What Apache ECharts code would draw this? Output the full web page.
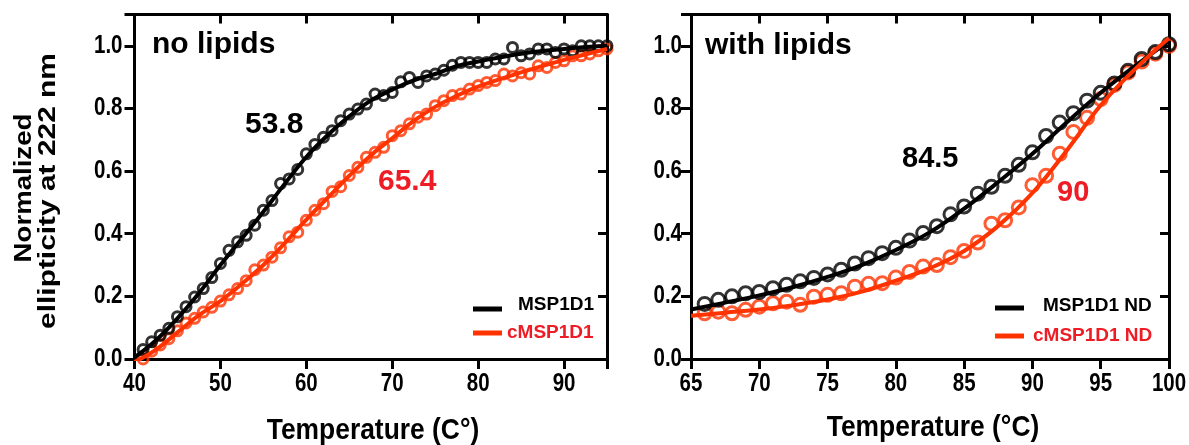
<!DOCTYPE html>
<html>
<head>
<meta charset="utf-8">
<script src="https://cdn.jsdelivr.net/npm/echarts@6/dist/echarts.min.js"></script>
<style>
  html, body { margin: 0; padding: 0; background: #fff; }
  #chart { width: 1189px; height: 445px; }
</style>
</head>
<body>
<div id="chart"></div>
<script>
// measured points, no lipids (40-95 C)
const tempNoLipids = [41, 42, 43, 44, 45, 46, 47, 48, 49, 50, 51, 52, 53, 54, 55, 56, 57, 58, 59, 60,
  61, 62, 63, 64, 65, 66, 67, 68, 69, 70, 71, 72, 73, 74, 75, 76, 77, 78, 79, 80,
  81, 82, 83, 84, 85, 86, 87, 88, 89, 90, 91, 92, 93, 94, 95];
const msp1d1 = [0.03, 0.055, 0.076, 0.098, 0.135, 0.167, 0.198, 0.225, 0.26, 0.305,
  0.347, 0.374, 0.395, 0.427, 0.475, 0.506, 0.56, 0.575, 0.605, 0.655,
  0.685, 0.708, 0.729, 0.761, 0.782, 0.798, 0.814, 0.846, 0.841, 0.851,
  0.885, 0.899, 0.883, 0.904, 0.91, 0.922, 0.938, 0.947, 0.947, 0.947,
  0.947, 0.958, 0.958, 0.995, 0.968, 0.974, 0.99, 0.99, 0.979, 0.99,
  0.984, 1.0, 1.0, 1.0, 1.0];
const cmsp1d1 = [0.0, 0.025, 0.045, 0.065, 0.09, 0.115, 0.13, 0.15, 0.165, 0.185,
  0.205, 0.225, 0.25, 0.285, 0.3, 0.325, 0.355, 0.39, 0.405, 0.443,
  0.475, 0.496, 0.535, 0.55, 0.586, 0.612, 0.644, 0.66, 0.676, 0.713,
  0.729, 0.751, 0.772, 0.782, 0.809, 0.825, 0.841, 0.846, 0.862, 0.873,
  0.883, 0.889, 0.91, 0.904, 0.914, 0.91, 0.936, 0.931, 0.947, 0.952,
  0.968, 0.968, 0.974, 0.984, 0.99];

// fitted curves, no lipids
const fitTempNoLipids = [40, 42.5, 45, 47.5, 50, 52.5, 55, 57.5, 60, 62.5, 65, 67.5, 70, 72.5, 75, 77.5, 80, 85, 90, 95];
const msp1d1Fit = [0.005, 0.06, 0.13, 0.21, 0.3, 0.385, 0.47, 0.56, 0.645, 0.715, 0.775, 0.825, 0.86, 0.89, 0.91, 0.935, 0.95, 0.975, 0.99, 1.0];
const cmsp1d1Fit = [-0.01, 0.03, 0.085, 0.14, 0.185, 0.24, 0.3, 0.37, 0.445, 0.515, 0.585, 0.65, 0.705, 0.76, 0.805, 0.84, 0.87, 0.915, 0.955, 0.99];

// measured points, with lipids (65-100 C)
const tempLipids = [66, 67, 68, 69, 70, 71, 72, 73, 74, 75, 76, 77, 78, 79, 80, 81, 82, 83, 84, 85,
  86, 87, 88, 89, 90, 91, 92, 93, 94, 95, 96, 97, 98, 99, 100];
const msp1d1Nd = [0.176, 0.189, 0.2, 0.21, 0.214, 0.226, 0.237, 0.248, 0.259, 0.27,
  0.285, 0.305, 0.322, 0.338, 0.355, 0.378, 0.402, 0.424, 0.462, 0.487,
  0.528, 0.55, 0.585, 0.62, 0.66, 0.712, 0.755, 0.785, 0.825, 0.85,
  0.88, 0.92, 0.958, 0.98, 1.005];
const cmsp1d1Nd = [0.146, 0.151, 0.146, 0.157, 0.167, 0.178, 0.183, 0.173, 0.199, 0.205,
  0.21, 0.231, 0.24, 0.242, 0.26, 0.278, 0.295, 0.3, 0.325, 0.345,
  0.372, 0.432, 0.443, 0.484, 0.555, 0.585, 0.655, 0.725, 0.77, 0.83,
  0.875, 0.915, 0.95, 0.975, 1.0];

// fitted curves, with lipids
const fitTempLipids = [65, 67.5, 70, 72.5, 75, 77.5, 80, 82.5, 85, 87.5, 90, 92.5, 95, 97.5, 100];
const msp1d1NdFit = [0.158, 0.18, 0.203, 0.23, 0.262, 0.3, 0.348, 0.405, 0.48, 0.565, 0.655, 0.755, 0.85, 0.935, 1.015];
const cmsp1d1NdFit = [0.138, 0.148, 0.158, 0.172, 0.19, 0.215, 0.25, 0.29, 0.345, 0.425, 0.53, 0.665, 0.81, 0.925, 1.025];

// tick labels
const xTicksNoLipids = [40, 50, 60, 70, 80, 90];
const xTicksLipids = [65, 70, 75, 80, 85, 90, 95, 100];
const yTicks = [0, 0.2, 0.4, 0.6, 0.8, 1.0];

const BLACK = '#000000';
const RED = '#ff3300';
const RED_TEXT = '#ee1c25';
const SANS = "'Liberation Sans', Arial, sans-serif";
const NARROW_X = 0.82; // the reference uses a condensed face for axis text

const zip = (xs, ys) => xs.map((x, i) => [x, ys[i]]);

const axisLine = { show: true, onZero: false, lineStyle: { color: BLACK, width: 3 } };

function xAxes(gridIndex, min, max, interval) {
  return [
    {
      type: 'value', gridIndex, min, max, interval, position: 'bottom',
      axisLine, splitLine: { show: false },
      axisTick: { show: true, length: 10, lineStyle: { width: 3, color: BLACK } },
      axisLabel: { show: false }
    },
    {
      type: 'value', gridIndex, min, max, interval, position: 'top',
      axisLine, splitLine: { show: false },
      axisTick: { show: true, inside: true, length: 9, lineStyle: { width: 3, color: BLACK } },
      axisLabel: { show: false }
    }
  ];
}

function yAxes(gridIndex) {
  return [
    {
      type: 'value', gridIndex, min: 0, max: 1.1, interval: 0.2, position: 'left',
      axisLine, splitLine: { show: false },
      axisTick: { show: true, length: 10, lineStyle: { width: 3, color: BLACK } },
      axisLabel: { show: false }
    },
    {
      type: 'value', gridIndex, min: 0, max: 1.1, interval: 0.2, position: 'right',
      axisLine, splitLine: { show: false },
      axisTick: { show: true, inside: true, length: 9, lineStyle: { width: 3, color: BLACK } },
      axisLabel: { show: false }
    }
  ];
}

function fitLine(xi, yi, data, color) {
  return {
    type: 'line', xAxisIndex: xi, yAxisIndex: yi, data, smooth: 0.4,
    showSymbol: false, silent: true,
    lineStyle: { color, width: 4 }
  };
}

function points(xi, yi, data, color, size) {
  return {
    type: 'scatter', xAxisIndex: xi, yAxisIndex: yi, data, symbol: 'circle',
    symbolSize: size, silent: true,
    itemStyle: { color: 'rgba(0,0,0,0)', borderColor: color, borderWidth: 3 }
  };
}

function txt(x, y, text, opts) {
  return {
    type: 'text', x, y, silent: true,
    ...opts.tf,
    style: {
      text, fill: opts.color || BLACK, align: opts.align || 'left', verticalAlign: 'middle',
      font: `bold ${opts.size}px ${SANS}`
    }
  };
}

function legendBar(x, y, color) {
  return { type: 'rect', shape: { x, y: y - 2.5, width: 29, height: 5 }, style: { fill: color }, silent: true };
}

const chart = echarts.init(document.getElementById('chart'), null, { renderer: 'canvas' });

chart.setOption({
  animation: false,
  backgroundColor: '#ffffff',
  grid: [
    { left: 134.5, right: 582, top: 14.5, bottom: 86 },
    { left: 691, right: 20, top: 14.5, bottom: 86 }
  ],
  xAxis: [...xAxes(0, 40, 95, 10), ...xAxes(1, 65, 100, 5)],
  yAxis: [...yAxes(0), ...yAxes(1)],
  series: [
    fitLine(0, 0, zip(fitTempNoLipids, msp1d1Fit), BLACK),
    fitLine(0, 0, zip(fitTempNoLipids, cmsp1d1Fit), RED),
    points(0, 0, zip(tempNoLipids, cmsp1d1), RED, 10),
    points(0, 0, zip(tempNoLipids, msp1d1), BLACK, 10),
    fitLine(2, 2, zip(fitTempLipids, msp1d1NdFit), BLACK),
    fitLine(2, 2, zip(fitTempLipids, cmsp1d1NdFit), RED),
    points(2, 2, zip(tempLipids, cmsp1d1Nd), RED, 13),
    points(2, 2, zip(tempLipids, msp1d1Nd), BLACK, 13)
  ]
});

// condensed tick labels, placed with the axes' own scales
const narrow = { tf: { scaleX: NARROW_X } };
const tickLabels = [];
const bottomY = chart.convertToPixel({ yAxisIndex: 0 }, 0);
xTicksNoLipids.forEach(t => {
  const x = chart.convertToPixel({ xAxisIndex: 0 }, t);
  tickLabels.push(txt(x, bottomY + 25, String(t), { size: 25, align: 'center', ...narrow }));
});
xTicksLipids.forEach(t => {
  const x = chart.convertToPixel({ xAxisIndex: 2 }, t);
  tickLabels.push(txt(x, bottomY + 25, String(t), { size: 25, align: 'center', ...narrow }));
});
const leftX0 = chart.convertToPixel({ xAxisIndex: 0 }, 40);
const leftX1 = chart.convertToPixel({ xAxisIndex: 2 }, 65);
yTicks.forEach(v => {
  const y0 = chart.convertToPixel({ yAxisIndex: 0 }, v);
  const y1 = chart.convertToPixel({ yAxisIndex: 2 }, v);
  tickLabels.push(txt(leftX0 - 12, y0, v.toFixed(1), { size: 25, align: 'right', ...narrow }));
  tickLabels.push(txt(leftX1 - 9, y1, v.toFixed(1), { size: 25, align: 'right', ...narrow }));
});

chart.setOption({
  graphic: [
    ...tickLabels,
    // panel titles and midpoints
    txt(152, 45, 'no lipids', { size: 30 }),
    txt(705, 46, 'with lipids', { size: 30 }),
    txt(245, 125, '53.8', { size: 30 }),
    txt(378, 182, '65.4', { size: 30, color: RED_TEXT }),
    txt(902, 159, '84.5', { size: 29 }),
    txt(1057, 193, '90', { size: 29, color: RED_TEXT }),
    // legends
    legendBar(473, 309, BLACK),
    txt(518, 305, 'MSP1D1', { size: 19 }),
    legendBar(473, 333, RED),
    txt(507, 333, 'cMSP1D1', { size: 19, color: RED_TEXT }),
    legendBar(995, 308, BLACK),
    txt(1043, 306, 'MSP1D1 ND', { size: 19 }),
    legendBar(995, 336, RED),
    txt(1033, 336, 'cMSP1D1 ND', { size: 19, color: RED_TEXT }),
    // axis titles
    txt(373, 431, 'Temperature (C\u00b0)', { size: 30, align: 'center', tf: { scaleX: 0.88 } }),
    txt(933, 428, 'Temperature (\u00b0C)', { size: 30, align: 'center', tf: { scaleX: 0.88 } }),
    txt(25, 188, 'Normalized', { size: 23, align: 'center', tf: { rotation: Math.PI / 2, scaleX: 1.2 } }),
    txt(49, 191, 'ellipticity at 222 nm', { size: 23, align: 'center', tf: { rotation: Math.PI / 2, scaleX: 1.3 } })
  ]
});
</script>
</body>
</html>
